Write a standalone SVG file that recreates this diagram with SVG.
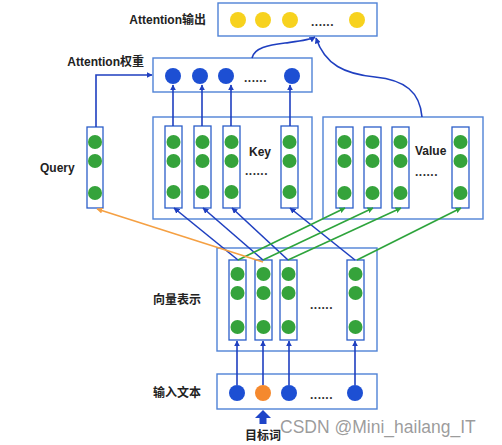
<svg xmlns="http://www.w3.org/2000/svg" width="502" height="445" viewBox="0 0 502 445">
<style>
.box{fill:#fff;stroke:#4f82d6;stroke-width:1.4}
.col{fill:#fff;stroke:#2b5ec9;stroke-width:1.3}
.g{fill:#35a33b}
.b{fill:#1d4fd3}
.y{fill:#f7d21e}
.o{fill:#f5892e}
.lbl{font-family:"Liberation Sans","Noto Sans CJK SC",sans-serif;font-weight:bold;font-size:12px;fill:#222}
.dots{font-family:"Liberation Sans",sans-serif;font-weight:bold;font-size:12px;fill:#333;letter-spacing:0.5px}
.lb{stroke:#1f3fc0;stroke-width:1.6;fill:none}
.lg{stroke:#2ea43c;stroke-width:1.6;fill:none}
.lo{stroke:#f5a043;stroke-width:1.6;fill:none}
</style>
<defs>
<marker id="ab" viewBox="0 0 10 10" refX="9" refY="5" markerWidth="6" markerHeight="6" orient="auto" markerUnits="userSpaceOnUse"><path d="M0,0L10,5L0,10z" fill="#1f3fc0"/></marker>
<marker id="ag" viewBox="0 0 10 10" refX="9" refY="5" markerWidth="6" markerHeight="6" orient="auto" markerUnits="userSpaceOnUse"><path d="M0,0L10,5L0,10z" fill="#2ea43c"/></marker>
<marker id="ao" viewBox="0 0 10 10" refX="9" refY="5" markerWidth="6" markerHeight="6" orient="auto" markerUnits="userSpaceOnUse"><path d="M0,0L10,5L0,10z" fill="#f5a043"/></marker>
</defs>

<g id="output">
<rect class="box" x="218" y="3" width="159" height="33"/>
<circle class="y" cx="238" cy="20" r="8"/>
<circle class="y" cx="263" cy="20" r="8"/>
<circle class="y" cx="290" cy="20" r="8"/>
<text class="dots" x="311" y="26">......</text>
<circle class="y" cx="357" cy="20" r="8"/>
<text class="lbl" x="206" y="24" text-anchor="end">Attention输出</text>
</g>

<g id="weights">
<rect class="box" x="153" y="58" width="159" height="34"/>
<circle class="b" cx="173" cy="76" r="8"/>
<circle class="b" cx="200" cy="76" r="8"/>
<circle class="b" cx="226" cy="76" r="8"/>
<text class="dots" x="244" y="82">......</text>
<circle class="b" cx="292" cy="76" r="8"/>
<text class="lbl" x="144" y="66" text-anchor="end">Attention权重</text>
</g>

<g id="query">
<rect class="col" x="87" y="127" width="16" height="81"/>
<circle class="g" cx="95" cy="142" r="7"/>
<circle class="g" cx="95" cy="161" r="7"/>
<circle class="g" cx="95" cy="193" r="7"/>
<text class="lbl" x="40" y="172">Query</text>
</g>

<g id="key">
<rect class="box" x="153" y="117" width="159" height="102"/>
<rect class="col" x="165" y="126" width="17" height="82"/>
<rect class="col" x="194" y="126" width="17" height="82"/>
<rect class="col" x="223" y="126" width="17" height="82"/>
<rect class="col" x="281" y="126" width="17" height="82"/>
<circle class="g" cx="173.5" cy="142" r="7"/><circle class="g" cx="173.5" cy="161" r="7"/><circle class="g" cx="173.5" cy="192" r="7"/>
<circle class="g" cx="202.5" cy="142" r="7"/><circle class="g" cx="202.5" cy="161" r="7"/><circle class="g" cx="202.5" cy="192" r="7"/>
<circle class="g" cx="231.5" cy="142" r="7"/><circle class="g" cx="231.5" cy="161" r="7"/><circle class="g" cx="231.5" cy="192" r="7"/>
<circle class="g" cx="289.5" cy="142" r="7"/><circle class="g" cx="289.5" cy="161" r="7"/><circle class="g" cx="289.5" cy="192" r="7"/>
<text class="lbl" x="249" y="156">Key</text>
<text class="dots" x="245" y="175">......</text>
</g>

<g id="value">
<rect class="box" x="323" y="117" width="160" height="102"/>
<rect class="col" x="336" y="127" width="17" height="81"/>
<rect class="col" x="364" y="127" width="17" height="81"/>
<rect class="col" x="392" y="127" width="17" height="81"/>
<rect class="col" x="452" y="127" width="17" height="81"/>
<circle class="g" cx="344.5" cy="142" r="7"/><circle class="g" cx="344.5" cy="161" r="7"/><circle class="g" cx="344.5" cy="193" r="7"/>
<circle class="g" cx="372.5" cy="142" r="7"/><circle class="g" cx="372.5" cy="161" r="7"/><circle class="g" cx="372.5" cy="193" r="7"/>
<circle class="g" cx="400.5" cy="142" r="7"/><circle class="g" cx="400.5" cy="161" r="7"/><circle class="g" cx="400.5" cy="193" r="7"/>
<circle class="g" cx="460.5" cy="142" r="7"/><circle class="g" cx="460.5" cy="161" r="7"/><circle class="g" cx="460.5" cy="193" r="7"/>
<text class="lbl" x="415" y="155">Value</text>
<text class="dots" x="415" y="176">......</text>
</g>

<g id="vectors">
<rect class="box" x="217" y="248" width="160" height="103"/>
<rect class="col" x="229" y="260" width="17" height="80"/>
<rect class="col" x="255" y="260" width="17" height="80"/>
<rect class="col" x="280" y="260" width="17" height="80"/>
<rect class="col" x="347" y="260" width="17" height="80"/>
<circle class="g" cx="237.5" cy="274" r="7"/><circle class="g" cx="237.5" cy="293" r="7"/><circle class="g" cx="237.5" cy="327" r="7"/>
<circle class="g" cx="263.5" cy="274" r="7"/><circle class="g" cx="263.5" cy="293" r="7"/><circle class="g" cx="263.5" cy="327" r="7"/>
<circle class="g" cx="288.5" cy="274" r="7"/><circle class="g" cx="288.5" cy="293" r="7"/><circle class="g" cx="288.5" cy="327" r="7"/>
<circle class="g" cx="355.5" cy="274" r="7"/><circle class="g" cx="355.5" cy="293" r="7"/><circle class="g" cx="355.5" cy="327" r="7"/>
<text class="lbl" x="153" y="304" font-size="13">向量表示</text>
<text class="dots" x="310" y="309">......</text>
</g>

<g id="input">
<rect class="box" x="217" y="374" width="160" height="35"/>
<circle class="b" cx="237" cy="393" r="8"/>
<circle class="o" cx="263" cy="393" r="8"/>
<circle class="b" cx="289" cy="393" r="8"/>
<text class="dots" x="310" y="399">......</text>
<circle class="b" cx="355" cy="393" r="8"/>
<text class="lbl" x="153" y="397">输入文本</text>
</g>

<g id="target">
<path d="M263,410 L271,418 L266.5,418 L266.5,424 L259.5,424 L259.5,418 L255,418 Z" fill="#1f45c8"/>
<text class="lbl" x="245" y="440">目标词</text>
</g>

<g id="connectors">
<line class="lb" x1="237" y1="385" x2="237" y2="341" marker-end="url(#ab)"/>
<line class="lb" x1="263" y1="385" x2="263" y2="341" marker-end="url(#ab)"/>
<line class="lb" x1="289" y1="385" x2="289" y2="341" marker-end="url(#ab)"/>
<line class="lb" x1="355" y1="385" x2="355" y2="341" marker-end="url(#ab)"/>

<line class="lb" x1="238" y1="260" x2="174" y2="208" marker-end="url(#ab)"/>
<line class="lb" x1="263" y1="260" x2="203" y2="208" marker-end="url(#ab)"/>
<line class="lb" x1="288" y1="260" x2="232" y2="208" marker-end="url(#ab)"/>
<line class="lb" x1="355" y1="260" x2="290" y2="208" marker-end="url(#ab)"/>

<line class="lg" x1="238" y1="260" x2="345" y2="208" marker-end="url(#ag)"/>
<line class="lg" x1="263" y1="260" x2="373" y2="208" marker-end="url(#ag)"/>
<line class="lg" x1="288" y1="260" x2="401" y2="208" marker-end="url(#ag)"/>
<line class="lg" x1="357" y1="260" x2="461" y2="208" marker-end="url(#ag)"/>

<line class="lo" x1="263" y1="262" x2="97" y2="209" marker-end="url(#ao)"/>

<line class="lb" x1="173" y1="126" x2="173" y2="85" marker-end="url(#ab)"/>
<line class="lb" x1="202" y1="126" x2="202" y2="85" marker-end="url(#ab)"/>
<line class="lb" x1="231" y1="126" x2="231" y2="85" marker-end="url(#ab)"/>
<line class="lb" x1="290" y1="126" x2="290" y2="85" marker-end="url(#ab)"/>

<path class="lb" d="M96,127 L96,75 L152,75" marker-end="url(#ab)"/>
<path class="lb" d="M252,58 C254,48 268,45 285,43 C300,41 310,40 315,37" marker-end="url(#ab)"/>
<path class="lb" d="M422,117 C420,92 405,80 375,77 C345,74 325,65 316,38" marker-end="url(#ab)"/>
</g>

<text x="280" y="433" font-family="Liberation Sans, sans-serif" font-size="17.5" fill="#8a8a8a" fill-opacity="0.85">CSDN @Mini_hailang_IT</text>
</svg>
